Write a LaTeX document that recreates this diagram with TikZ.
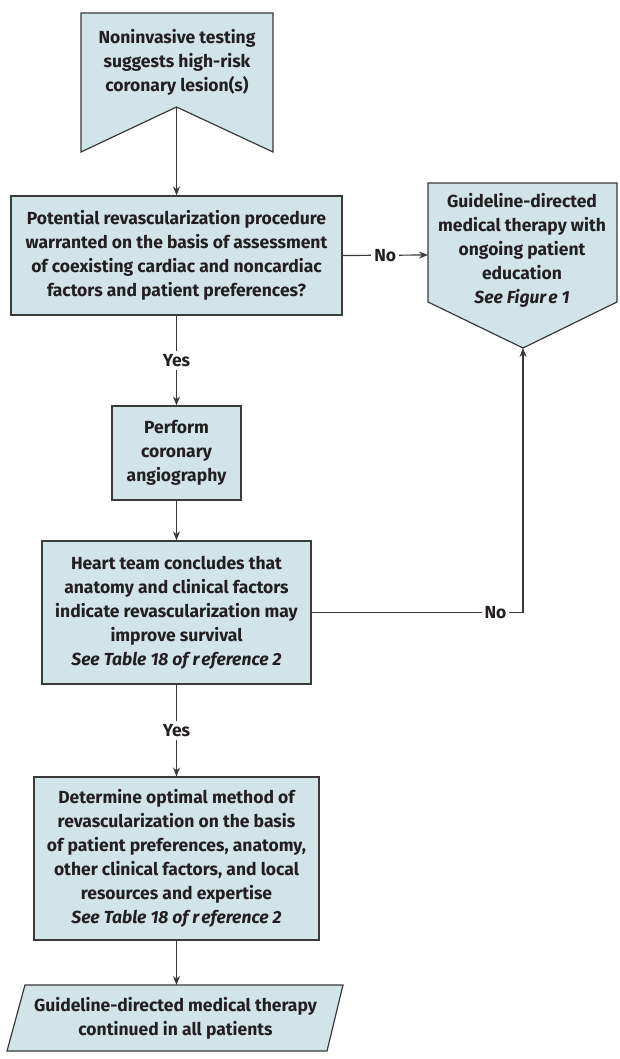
\documentclass[tikz,border=0pt]{standalone}
\usepackage{fontspec}
\setmainfont{Fira Sans}
\usetikzlibrary{arrows.meta}
\definecolor{boxfill}{HTML}{D1E4E8}
\definecolor{edgecol}{HTML}{3A3A3A}
\definecolor{txtcol}{HTML}{231F20}
\newcommand\flowfont{\fontsize{17.5}{24}\selectfont\bfseries}
\tikzset{
  box/.style={draw=edgecol, fill=boxfill, line width=1.2pt, rectangle, inner sep=0pt,
    align=center, font=\flowfont, text=txtcol},
  shapefill/.style={draw=edgecol, fill=boxfill, line width=1.2pt, line join=miter},
  txtnode/.style={inner sep=0pt, align=center, font=\flowfont, text=txtcol},
  lbl/.style={fill=white, inner sep=3pt, font=\flowfont, text=txtcol},
  conn/.style={draw=edgecol, line width=1.2pt},
  arr/.style={conn, -{Stealth[length=9pt,width=7pt]}},
}
\begin{document}
\begin{tikzpicture}[x=1pt,y=-1pt]
\useasboundingbox (0,0) rectangle (619,1059);
% top pennant
\draw[shapefill] (81,13) -- (273,13) -- (273,152) -- (176.5,107) -- (81,152) -- cycle;
\node[txtnode] (t1) at (177,62) {Noninvasive testing\\suggests high-risk\\coronary lesion(s)};
\coordinate (t1tip) at (176.5,107);
% right pennant
\draw[shapefill] (428,183) -- (617,183) -- (617,302) -- (523,348) -- (428,302) -- cycle;
\node[txtnode] (rp) at (522,250.5) {Guideline-directed\\medical therapy with\\ongoing patient\\education\\{\itshape See Figur\kern2pt e 1}};
\coordinate (rptip) at (523,348);
\coordinate (rpwest) at (428,255);
% boxes
\node[box, minimum width=331pt, minimum height=119pt] (b2) at (176.5,255.5)
  {Potential revascularization procedure\\warranted on the basis of assessment\\of coexisting cardiac and noncardiac\\factors and patient preferences?};
\node[box, minimum width=129pt, minimum height=94pt] (b3) at (176.5,453)
  {Perform\\coronary\\angiography};
\node[box, minimum width=269pt, minimum height=143pt] (b4) at (176.5,612.5)
  {Heart team concludes that\\anatomy and clinical factors\\indicate revascularization may\\improve survival\\{\itshape See Table 18 of r\kern2pt eference 2}};
\node[box, minimum width=285pt, minimum height=163pt] (b5) at (176.5,858.5)
  {Determine optimal method of\\revascularization on the basis\\of patient preferences, anatomy,\\other clinical factors, and local\\resources and expertise\\{\itshape See Table 18 of r\kern2pt eference 2}};
% parallelogram
\draw[shapefill] (25,985) -- (343,985) -- (327,1051) -- (7,1051) -- cycle;
\node[txtnode] (b6) at (175.5,1018) {Guideline-directed medical therapy\\continued in all patients};
\coordinate (b6top) at (176.5,985);
% connectors
\draw[arr] (t1tip) -- (b2.north);
\draw[arr] (b2.east) -- node[lbl]{No} (rpwest);
\draw[arr] (b2.south) -- node[lbl]{Yes} (b3.north);
\draw[arr] (b3.south) -- (b4.north);
\draw[arr] (b4.east) -- node[lbl,pos=0.87]{No} (b4.east -| rptip) -- (rptip);
\draw[arr] (b4.south) -- node[lbl]{Yes} (b5.north);
\draw[arr] (b5.south) -- (b6top);
\end{tikzpicture}
\end{document}
